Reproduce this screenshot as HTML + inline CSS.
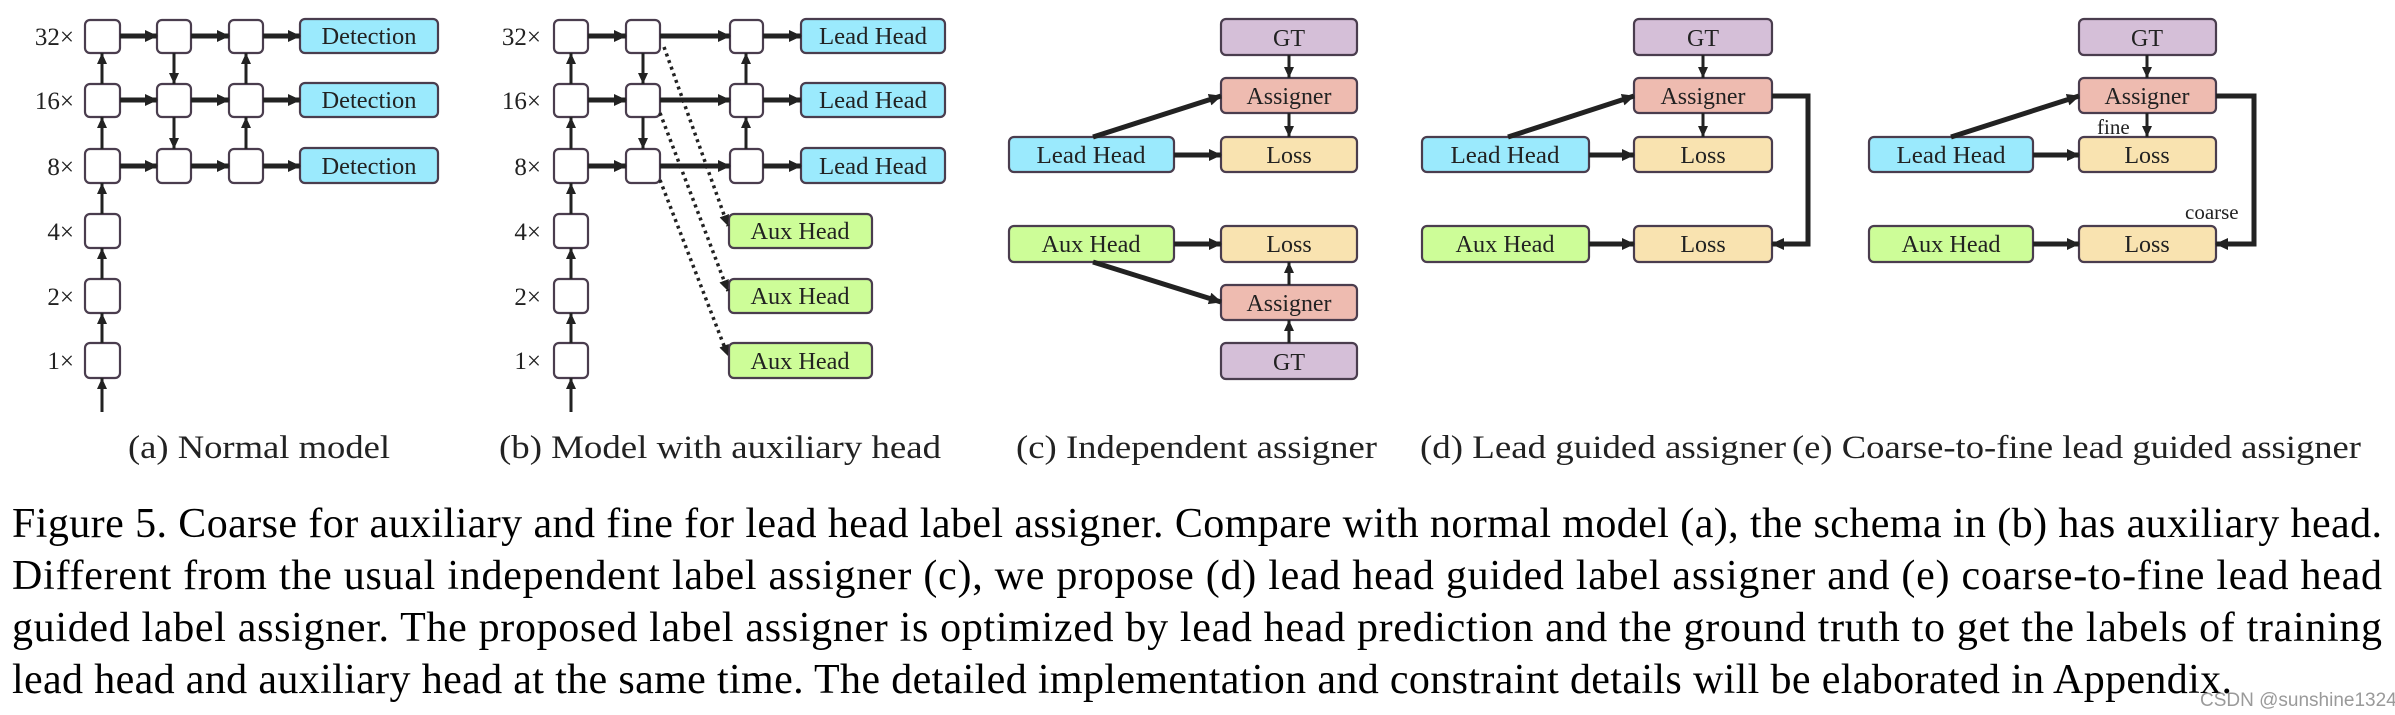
<!DOCTYPE html>
<html><head><meta charset="utf-8"><style>
html,body{margin:0;padding:0;background:#fff;}
svg{display:block;}
.t{font-family:"Liberation Serif",serif;fill:#222;}
.bx{stroke:#4a3d4e;stroke-width:2.2;}
.cap{font-family:"Liberation Serif",serif;font-size:42px;fill:#000;}
</style></head><body>
<svg width="2395" height="715" viewBox="0 0 2395 715" xmlns="http://www.w3.org/2000/svg">
<defs>
<marker id="ah" markerUnits="userSpaceOnUse" markerWidth="14" markerHeight="14" refX="12" refY="7" orient="auto"><path d="M0,1 L13,7 L0,13 Z" fill="#222"/></marker>
<marker id="as" markerUnits="userSpaceOnUse" markerWidth="12" markerHeight="12" refX="11" refY="6" orient="auto"><path d="M0,1 L11,6 L0,11 Z" fill="#222"/></marker>
</defs>
<g fill="#fff" class="bx">
<!-- (a) boxes -->
<rect x="85" y="20" width="35" height="33" rx="5"/><rect x="157" y="20" width="34" height="33" rx="5"/><rect x="229" y="20" width="34" height="33" rx="5"/>
<rect x="85" y="84" width="35" height="33" rx="5"/><rect x="157" y="84" width="34" height="33" rx="5"/><rect x="229" y="84" width="34" height="33" rx="5"/>
<rect x="85" y="149" width="35" height="34" rx="5"/><rect x="157" y="149" width="34" height="34" rx="5"/><rect x="229" y="149" width="34" height="34" rx="5"/>
<rect x="85" y="214" width="35" height="34" rx="5"/><rect x="85" y="279" width="35" height="34" rx="5"/><rect x="85" y="343" width="35" height="35" rx="5"/>
<!-- (b) boxes -->
<rect x="554" y="20" width="34" height="33" rx="5"/><rect x="626" y="20" width="34" height="33" rx="5"/><rect x="730" y="20" width="33" height="33" rx="5"/>
<rect x="554" y="84" width="34" height="33" rx="5"/><rect x="626" y="84" width="34" height="33" rx="5"/><rect x="730" y="84" width="33" height="33" rx="5"/>
<rect x="554" y="149" width="34" height="34" rx="5"/><rect x="626" y="149" width="34" height="34" rx="5"/><rect x="730" y="149" width="33" height="34" rx="5"/>
<rect x="554" y="214" width="34" height="34" rx="5"/><rect x="554" y="279" width="34" height="34" rx="5"/><rect x="554" y="343" width="34" height="35" rx="5"/>
</g>
<g class="bx">
<rect x="300" y="19" width="138" height="34" rx="5" fill="#9beafd"/><rect x="300" y="83" width="138" height="34" rx="5" fill="#9beafd"/><rect x="300" y="148" width="138" height="35" rx="5" fill="#9beafd"/>
<rect x="801" y="19" width="144" height="34" rx="5" fill="#9beafd"/><rect x="801" y="83" width="144" height="34" rx="5" fill="#9beafd"/><rect x="801" y="148" width="144" height="35" rx="5" fill="#9beafd"/>
<rect x="729" y="214" width="143" height="34" rx="5" fill="#cdfd98"/><rect x="729" y="279" width="143" height="34" rx="5" fill="#cdfd98"/><rect x="729" y="343" width="143" height="35" rx="5" fill="#cdfd98"/>
<!-- (c) -->
<rect x="1221" y="19" width="136" height="36" rx="5" fill="#d5bfd8"/>
<rect x="1221" y="78" width="136" height="35" rx="5" fill="#eebbb0"/>
<rect x="1221" y="137" width="136" height="35" rx="5" fill="#f9e3b0"/>
<rect x="1009" y="137" width="165" height="35" rx="5" fill="#9beafd"/>
<rect x="1009" y="226" width="165" height="36" rx="5" fill="#cdfd98"/>
<rect x="1221" y="226" width="136" height="36" rx="5" fill="#f9e3b0"/>
<rect x="1221" y="285" width="136" height="35" rx="5" fill="#eebbb0"/>
<rect x="1221" y="343" width="136" height="36" rx="5" fill="#d5bfd8"/>
<!-- (d) -->
<rect x="1634" y="19" width="138" height="36" rx="5" fill="#d5bfd8"/>
<rect x="1634" y="78" width="138" height="35" rx="5" fill="#eebbb0"/>
<rect x="1634" y="137" width="138" height="35" rx="5" fill="#f9e3b0"/>
<rect x="1422" y="137" width="167" height="35" rx="5" fill="#9beafd"/>
<rect x="1422" y="226" width="167" height="36" rx="5" fill="#cdfd98"/>
<rect x="1634" y="226" width="138" height="36" rx="5" fill="#f9e3b0"/>
<!-- (e) -->
<rect x="2079" y="19" width="137" height="36" rx="5" fill="#d5bfd8"/>
<rect x="2079" y="78" width="137" height="35" rx="5" fill="#eebbb0"/>
<rect x="2079" y="137" width="137" height="35" rx="5" fill="#f9e3b0"/>
<rect x="1869" y="137" width="164" height="35" rx="5" fill="#9beafd"/>
<rect x="1869" y="226" width="164" height="36" rx="5" fill="#cdfd98"/>
<rect x="2079" y="226" width="137" height="36" rx="5" fill="#f9e3b0"/>
</g>
<!-- thick arrows -->
<g stroke="#222" stroke-width="5" fill="none" marker-end="url(#ah)">
<path d="M120,36 H157"/><path d="M191,36 H229"/><path d="M263,36 H300"/>
<path d="M120,100 H157"/><path d="M191,100 H229"/><path d="M263,100 H300"/>
<path d="M120,166 H157"/><path d="M191,166 H229"/><path d="M263,166 H300"/>
<path d="M588,36 H626"/><path d="M660,36 H730"/><path d="M763,36 H801"/>
<path d="M588,100 H626"/><path d="M660,100 H730"/><path d="M763,100 H801"/>
<path d="M588,166 H626"/><path d="M660,166 H730"/><path d="M763,166 H801"/>
<path d="M1174,155 H1221"/><path d="M1174,244 H1221"/><path d="M1093,137 L1221,96"/><path d="M1093,262 L1221,302"/>
<path d="M1589,155 H1634"/><path d="M1589,244 H1634"/><path d="M1508,137 L1634,96"/><path d="M1772,96 H1808 V244 H1772"/>
<path d="M2033,155 H2079"/><path d="M2033,244 H2079"/><path d="M1951,137 L2079,96"/><path d="M2216,96 H2254 V244 H2216"/>
</g>
<!-- thin arrows -->
<g stroke="#222" stroke-width="3" fill="none" marker-end="url(#as)">
<path d="M102,412 V378"/><path d="M102,343 V313"/><path d="M102,279 V248"/><path d="M102,214 V183"/><path d="M102,149 V117"/><path d="M102,84 V53"/>
<path d="M174,53 V84"/><path d="M174,117 V149"/><path d="M246,149 V117"/><path d="M246,84 V53"/>
<path d="M571,412 V378"/><path d="M571,343 V313"/><path d="M571,279 V248"/><path d="M571,214 V183"/><path d="M571,149 V117"/><path d="M571,84 V53"/>
<path d="M643,53 V84"/><path d="M643,117 V149"/><path d="M746,149 V117"/><path d="M746,84 V53"/>
<path d="M1289,55 V78"/><path d="M1289,113 V137"/><path d="M1289,285 V262"/><path d="M1289,343 V320"/>
<path d="M1703,55 V78"/><path d="M1703,113 V137"/>
<path d="M2147,55 V78"/><path d="M2147,113 V137"/>
</g>
<!-- dotted -->
<g stroke="#222" stroke-width="3.5" fill="none" stroke-dasharray="3,4" marker-end="url(#as)">
<path d="M664,47 L728,226"/><path d="M660,113 L728,291"/><path d="M660,180 L728,356"/>
</g>
<!-- labels -->
<g class="t" font-size="25" text-anchor="end">
<text x="74" y="45">32×</text><text x="74" y="109">16×</text><text x="74" y="175">8×</text><text x="74" y="240">4×</text><text x="74" y="305">2×</text><text x="74" y="369">1×</text>
<text x="541" y="45">32×</text><text x="541" y="109">16×</text><text x="541" y="175">8×</text><text x="541" y="240">4×</text><text x="541" y="305">2×</text><text x="541" y="369">1×</text>
</g>
<g class="t" font-size="24" text-anchor="middle">
<text x="369" y="44" textLength="95" lengthAdjust="spacingAndGlyphs">Detection</text>
<text x="369" y="108" textLength="95" lengthAdjust="spacingAndGlyphs">Detection</text>
<text x="369" y="174" textLength="95" lengthAdjust="spacingAndGlyphs">Detection</text>
<text x="873" y="44" textLength="108" lengthAdjust="spacingAndGlyphs">Lead Head</text>
<text x="873" y="108" textLength="108" lengthAdjust="spacingAndGlyphs">Lead Head</text>
<text x="873" y="174" textLength="108" lengthAdjust="spacingAndGlyphs">Lead Head</text>
<text x="800" y="239" textLength="99" lengthAdjust="spacingAndGlyphs">Aux Head</text>
<text x="800" y="304" textLength="99" lengthAdjust="spacingAndGlyphs">Aux Head</text>
<text x="800" y="369" textLength="99" lengthAdjust="spacingAndGlyphs">Aux Head</text>
<text x="1289" y="46">GT</text><text x="1289" y="104" textLength="85" lengthAdjust="spacingAndGlyphs">Assigner</text><text x="1289" y="163">Loss</text>
<text x="1091" y="163" textLength="109" lengthAdjust="spacingAndGlyphs">Lead Head</text><text x="1091" y="252" textLength="99" lengthAdjust="spacingAndGlyphs">Aux Head</text>
<text x="1289" y="252">Loss</text><text x="1289" y="311" textLength="85" lengthAdjust="spacingAndGlyphs">Assigner</text><text x="1289" y="370">GT</text>
<text x="1703" y="46">GT</text><text x="1703" y="104" textLength="85" lengthAdjust="spacingAndGlyphs">Assigner</text><text x="1703" y="163">Loss</text>
<text x="1505" y="163" textLength="109" lengthAdjust="spacingAndGlyphs">Lead Head</text><text x="1505" y="252" textLength="99" lengthAdjust="spacingAndGlyphs">Aux Head</text><text x="1703" y="252">Loss</text>
<text x="2147" y="46">GT</text><text x="2147" y="104" textLength="85" lengthAdjust="spacingAndGlyphs">Assigner</text><text x="2147" y="163">Loss</text>
<text x="1951" y="163" textLength="109" lengthAdjust="spacingAndGlyphs">Lead Head</text><text x="1951" y="252" textLength="99" lengthAdjust="spacingAndGlyphs">Aux Head</text><text x="2147" y="252">Loss</text>
</g>
<g class="t" font-size="21">
<text x="2097" y="134">fine</text><text x="2185" y="219">coarse</text>
</g>
<g class="t" font-size="33" fill="#333">
<text x="128" y="458" textLength="262" lengthAdjust="spacingAndGlyphs">(a) Normal model</text>
<text x="499" y="458" textLength="442" lengthAdjust="spacingAndGlyphs">(b) Model with auxiliary head</text>
<text x="1016" y="458" textLength="361" lengthAdjust="spacingAndGlyphs">(c) Independent assigner</text>
<text x="1420" y="458" textLength="366" lengthAdjust="spacingAndGlyphs">(d) Lead guided assigner</text>
<text x="1792" y="458" textLength="569" lengthAdjust="spacingAndGlyphs">(e) Coarse-to-fine lead guided assigner</text>
</g>
<g class="cap">
<text x="12" y="537" textLength="2370" lengthAdjust="spacing">Figure 5. Coarse for auxiliary and fine for lead head label assigner. Compare with normal model (a), the schema in (b) has auxiliary head.</text>
<text x="12" y="589" textLength="2370" lengthAdjust="spacing">Different from the usual independent label assigner (c), we propose (d) lead head guided label assigner and (e) coarse-to-fine lead head</text>
<text x="12" y="641" textLength="2370" lengthAdjust="spacing">guided label assigner. The proposed label assigner is optimized by lead head prediction and the ground truth to get the labels of training</text>
<text x="12" y="693" textLength="2220" lengthAdjust="spacing">lead head and auxiliary head at the same time. The detailed implementation and constraint details will be elaborated in Appendix.</text>
</g>
<text x="2200" y="706" font-family="Liberation Sans, sans-serif" font-size="19" fill="#9a9a9a">CSDN @sunshine1324</text>
</svg>
</body></html>
